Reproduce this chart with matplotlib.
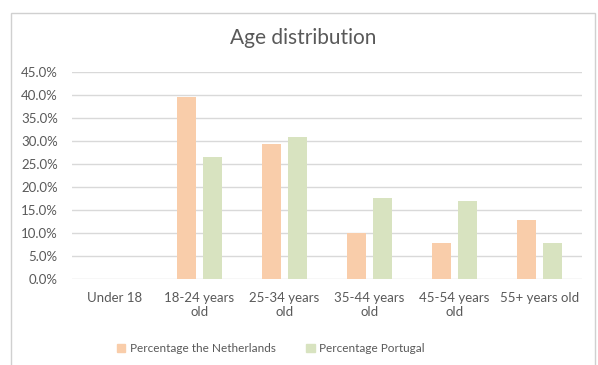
import matplotlib
matplotlib.use("Agg")
import matplotlib.pyplot as plt
import numpy as np
from matplotlib.patches import Rectangle, Patch
from matplotlib.ticker import FuncFormatter, MultipleLocator

categories = ["Under 18", "18-24 years\nold", "25-34 years\nold", "35-44 years\nold",
              "45-54 years\nold", "55+ years old"]
netherlands = [0.0, 39.5, 29.4, 9.9, 7.9, 12.8]
portugal = [0.0, 26.5, 30.8, 17.7, 17.0, 7.9]
series_names = ["Percentage the Netherlands", "Percentage Portugal"]

plt.rcParams['font.family'] = ['Lato', 'DejaVu Sans']
text_color = "#595959"
nl_color = "#F9CDAA"
pt_color = "#D8E3C0"
grid_color = "#D9D9D9"

fig = plt.figure(figsize=(5.98, 3.65), dpi=100)
ax = fig.add_axes([0.12, 0.2356, 0.8527, 0.5671])

x = np.arange(len(categories))
bw = 0.224
off = 0.153
ax.bar(x - off, netherlands, width=bw, color=nl_color, zorder=3)
ax.bar(x + off, portugal, width=bw, color=pt_color, zorder=3)

ax.set_xlim(-0.5, len(categories) - 0.5)
ax.set_ylim(0, 45)
ax.yaxis.set_major_locator(MultipleLocator(5))
ax.yaxis.set_major_formatter(FuncFormatter(lambda v, p: f"{v:.1f}%"))
ax.grid(axis='y', color=grid_color, linewidth=1.0, zorder=0)
ax.set_axisbelow(True)
for s in ax.spines.values():
    s.set_visible(False)
ax.tick_params(axis='both', length=0, colors=text_color, labelsize=9.5)
ax.tick_params(axis='y', pad=10)
ax.tick_params(axis='x', pad=9)
ax.set_xticks(x)
ax.set_xticklabels(categories, linespacing=1.25)

fig.text(0.507, 0.895, "Age distribution", ha='center', va='center',
         fontsize=15, color=text_color)

handles = [Patch(color=nl_color), Patch(color=pt_color)]
fig.legend(handles, series_names, loc='center', bbox_to_anchor=(0.453, 0.045),
           ncol=2, frameon=False, fontsize=8.5, labelcolor=text_color,
           handlelength=0.7, handleheight=0.7, handletextpad=0.4, columnspacing=2.6)

# chart frame
fig.patches.append(Rectangle((11 / 598, -0.05), (595 - 11) / 598, 1 - 13 / 365 + 0.05,
                             transform=fig.transFigure, fill=False,
                             edgecolor="#D0D0D0", linewidth=1.0))

fig.savefig("out.png", dpi=100)
